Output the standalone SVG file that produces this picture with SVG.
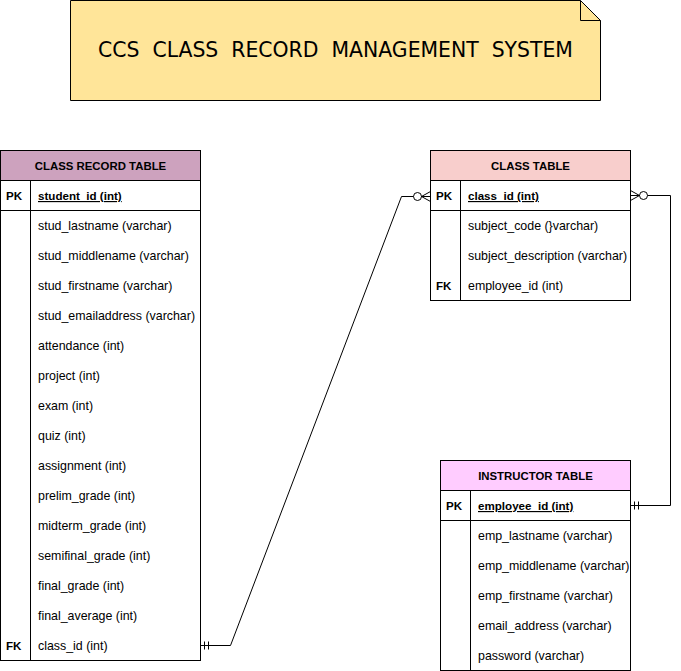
<svg xmlns="http://www.w3.org/2000/svg" width="681" height="671" viewBox="0 0 681 671">
<style>
.box{fill:#ffffff;stroke:#000000;stroke-width:1}
.hdr{stroke:#000000;stroke-width:1}
.ln{stroke:#000000;stroke-width:1;fill:none}
.t{font-family:"Liberation Sans",Arial,sans-serif;font-size:12.4px;fill:#000000}
.b{font-family:"Liberation Sans",Arial,sans-serif;font-size:11.6px;font-weight:bold;fill:#000000}
.h{font-family:"Liberation Sans",Arial,sans-serif;font-size:11.4px;font-weight:bold;fill:#000000;text-anchor:middle}
.pk{text-decoration:underline}
.title{font-family:"DejaVu Sans",Verdana,sans-serif;font-size:20.4px;fill:#000000;text-anchor:middle}
</style>
<rect width="681" height="671" fill="#ffffff"/>
<g id="title-note">
<path d="M70.5 0.5 H580.5 L600.5 20.5 V100.5 H70.5 Z" fill="#FFE599" stroke="#000000"/>
<path d="M580.5 0.5 V20.5 H600.5" fill="none" stroke="#000000"/>
<text class="title" x="335.5" y="57" xml:space="preserve">CCS  CLASS  RECORD  MANAGEMENT  SYSTEM</text>
</g>
<g id="class-record-table">
<rect class="box" x="0.5" y="150.5" width="200" height="510"/>
<rect class="hdr" x="0.5" y="150.5" width="200" height="30" fill="#CDA2BE"/>
<text class="h" x="100.5" y="170">CLASS RECORD TABLE</text>
<line class="ln" x1="0.5" y1="210.5" x2="200.5" y2="210.5"/>
<line class="ln" x1="30.5" y1="180.5" x2="30.5" y2="660.5"/>
<text class="b" x="6" y="200">PK</text>
<text class="b pk" x="38" y="200">student_id (int)</text>
<text class="t" x="38" y="230">stud_lastname (varchar)</text>
<text class="t" x="38" y="260">stud_middlename (varchar)</text>
<text class="t" x="38" y="290">stud_firstname (varchar)</text>
<text class="t" x="38" y="320">stud_emailaddress (varchar)</text>
<text class="t" x="38" y="350">attendance (int)</text>
<text class="t" x="38" y="380">project (int)</text>
<text class="t" x="38" y="410">exam (int)</text>
<text class="t" x="38" y="440">quiz (int)</text>
<text class="t" x="38" y="470">assignment (int)</text>
<text class="t" x="38" y="500">prelim_grade (int)</text>
<text class="t" x="38" y="530">midterm_grade (int)</text>
<text class="t" x="38" y="560">semifinal_grade (int)</text>
<text class="t" x="38" y="590">final_grade (int)</text>
<text class="t" x="38" y="620">final_average (int)</text>
<text class="b" x="6" y="650">FK</text>
<text class="t" x="38" y="650">class_id (int)</text>
</g>
<g id="class-table">
<rect class="box" x="430.5" y="150.5" width="200" height="150"/>
<rect class="hdr" x="430.5" y="150.5" width="200" height="30" fill="#F8CECC"/>
<text class="h" x="530.5" y="170">CLASS TABLE</text>
<line class="ln" x1="430.5" y1="210.5" x2="630.5" y2="210.5"/>
<line class="ln" x1="460.5" y1="180.5" x2="460.5" y2="300.5"/>
<text class="b" x="436" y="200">PK</text>
<text class="b pk" x="468" y="200">class_id (int)</text>
<text class="t" x="468" y="230">subject_code (}varchar)</text>
<text class="t" x="468" y="260">subject_description (varchar)</text>
<text class="b" x="436" y="290">FK</text>
<text class="t" x="468" y="290">employee_id (int)</text>
</g>
<g id="instructor-table">
<rect class="box" x="440.5" y="460.5" width="190" height="210"/>
<rect class="hdr" x="440.5" y="460.5" width="190" height="30" fill="#FFCCFF"/>
<text class="h" x="535.5" y="480">INSTRUCTOR TABLE</text>
<line class="ln" x1="440.5" y1="520.5" x2="630.5" y2="520.5"/>
<line class="ln" x1="470.5" y1="490.5" x2="470.5" y2="670.5"/>
<text class="b" x="446" y="510">PK</text>
<text class="b pk" x="478" y="510">employee_id (int)</text>
<text class="t" x="478" y="540">emp_lastname (varchar)</text>
<text class="t" x="478" y="570">emp_middlename (varchar)</text>
<text class="t" x="478" y="600">emp_firstname (varchar)</text>
<text class="t" x="478" y="630">email_address (varchar)</text>
<text class="t" x="478" y="660">password (varchar)</text>
</g>
<g id="connectors">
<path class="ln" d="M200.5 645.5 H230.5 L401.5 196.5 H413.5"/>
<line class="ln" x1="204.5" y1="641.5" x2="204.5" y2="649.5"/>
<line class="ln" x1="208.5" y1="641.5" x2="208.5" y2="649.5"/>
<circle class="ln" cx="417.5" cy="196.5" r="4" fill="#ffffff"/>
<path class="ln" d="M430.5 191.5 L421.5 196.5 L430.5 201.5 M421.5 196.5 H430.5"/>
<path class="ln" d="M647.5 195.5 H670.5 V505.5 H630.5"/>
<circle class="ln" cx="643.5" cy="195.5" r="4" fill="#ffffff"/>
<path class="ln" d="M630.5 190.5 L639.5 195.5 L630.5 200.5 M630.5 195.5 H639.5"/>
<line class="ln" x1="634.5" y1="501.5" x2="634.5" y2="509.5"/>
<line class="ln" x1="638.5" y1="501.5" x2="638.5" y2="509.5"/>
</g>
</svg>
